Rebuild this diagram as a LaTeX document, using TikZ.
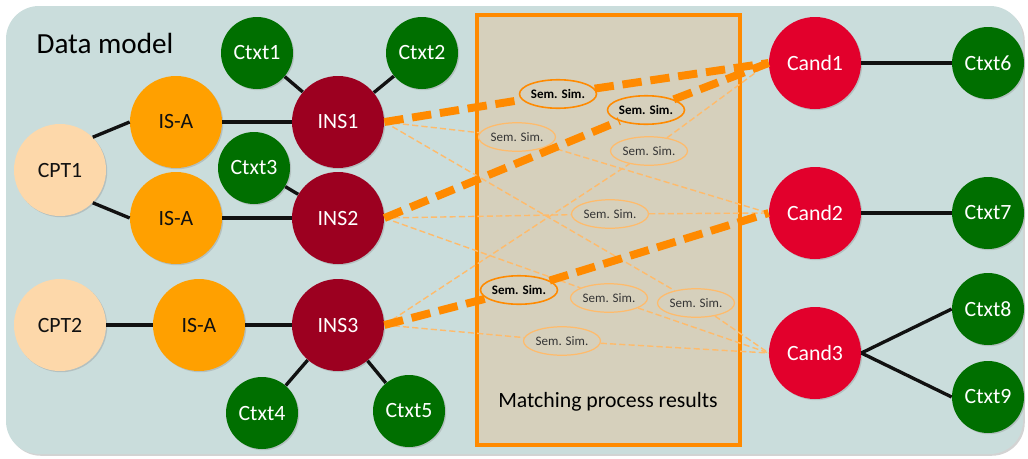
\documentclass[tikz,border=0pt]{standalone}
\usepackage{fontspec}
\setmainfont{Carlito}
\usepackage{tikz}
\usetikzlibrary{positioning,shapes.geometric,shadows,backgrounds}
\definecolor{ink}    {HTML}{111111}
\definecolor{sky}    {HTML}{CADDDC}
\definecolor{sand}   {HTML}{D6D0BC}
\definecolor{tang}   {HTML}{FF8A00}
\definecolor{peach}  {HTML}{FDD8AA}
\definecolor{amber}  {HTML}{FFA000}
\definecolor{wine}   {HTML}{9C0020}
\definecolor{leaf}   {HTML}{006F00}
\definecolor{cherry} {HTML}{E2002C}
\colorlet{paletang}{tang!58}
\tikzset{
  every node/.style={font=\fontsize{12.4}{14}\selectfont},
  % --- nodes
  ball/.style  = {circle, minimum size=18.4mm, inner sep=0pt,
                  drop shadow={shadow xshift=0.7pt, shadow yshift=-0.7pt, opacity=0.3}},
  cpt/.style   = {ball, fill=peach, text=ink},
  isa/.style   = {ball, fill=amber, text=ink},
  ins/.style   = {ball, fill=wine, text=white},
  cand/.style  = {ball, fill=cherry, text=white},
  ctxt/.style  = {ball, minimum size=14.4mm, fill=leaf, text=white},
  sim/.style   = {ellipse, fill=sand, draw=paletang, line width=0.7pt, inner sep=0pt,
                  minimum width=15.4mm, minimum height=5.7mm,
                  font=\fontsize{7.4}{8}\selectfont, text=ink!85},
  simb/.style  = {sim, draw=tang, line width=0.9pt, font=\fontsize{7.4}{8}\selectfont\bfseries, text=black},
  % --- edges
  e/.style     = {draw=ink, line width=1.9pt},
  em/.style    = {draw=tang, line width=4.5pt, dash pattern=on 11pt off 5pt},
  es/.style    = {draw=paletang, line width=0.8pt, dash pattern=on 3.5pt off 1.8pt},
}
\begin{document}
\begin{tikzpicture}[x=0.2mm, y=-0.2mm]
  \useasboundingbox (0,0) rectangle (1028,458);
  \fill[sky, rounded corners=6.6mm,
        drop shadow={shadow xshift=1pt, shadow yshift=-1pt, opacity=0.35}]
    (6,6) rectangle (1023,454);
  \draw[tang, fill=sand, line width=2pt] (477,15) rectangle (740,445);
  \node[font=\fontsize{16.6}{19}\selectfont] (title) at (105,43) {Data model};
  \node (res) at (608,402) {Matching process results};

  % left side
  \node[cpt] (cpt1) at (60,170) {CPT1};
  \node[cpt] (cpt2) at (60,325) {CPT2};
  \node[isa] (isa1) at (176,122) {IS-A};
  \node[isa] (isa2) at (176,218) {IS-A};
  \node[isa] (isa3) at (199,325) {IS-A};
  \node[ins] (ins1) at (338,122) {INS1};
  \node[ins] (ins2) at (338,218) {INS2};
  \node[ins] (ins3) at (338,325) {INS3};
  \node[ctxt] (ctxt1) at (257,53) {Ctxt1};
  \node[ctxt] (ctxt2) at (422,53) {Ctxt2};
  \node[ctxt] (ctxt3) at (254,168) {Ctxt3};
  \node[ctxt] (ctxt4) at (262,413) {Ctxt4};
  \node[ctxt] (ctxt5) at (409,411) {Ctxt5};

  % right side
  \node[cand] (cand1) at (815,63) {Cand1};
  \node[cand] (cand2) at (815,213) {Cand2};
  \node[cand] (cand3) at (815,353) {Cand3};
  \node[ctxt] (ctxt6) at (988,63) {Ctxt6};
  \node[ctxt] (ctxt7) at (988,213) {Ctxt7};
  \node[ctxt] (ctxt8) at (988,309) {Ctxt8};
  \node[ctxt] (ctxt9) at (988,397) {Ctxt9};

  % similarity labels
  \node[simb] (s11) at (558,94)  {Sem. Sim.};
  \node[simb] (s21) at (646,110) {Sem. Sim.};
  \node[simb] (s32) at (519,290) {Sem. Sim.};
  \node[sim]  (s12) at (517,137) {Sem. Sim.};
  \node[sim]  (s31) at (649,151) {Sem. Sim.};
  \node[sim]  (s22) at (610,214) {Sem. Sim.};
  \node[sim]  (s23) at (609,298) {Sem. Sim.};
  \node[sim]  (s13) at (696,303) {Sem. Sim.};
  \node[sim]  (s33) at (562,341) {Sem. Sim.};

  \draw[e] (cpt1.north east)--(isa1.west); \draw[e] (cpt1.south east)--(isa2.west);
  \draw[e] (cpt2)--(isa3);
  \draw[e] (isa1)--(ins1); \draw[e] (isa2)--(ins2); \draw[e] (isa3)--(ins3);
  \draw[e] (ctxt1)--(ins1); \draw[e] (ctxt2)--(ins1); \draw[e] (ctxt3)--(ins2);
  \draw[e] (ctxt4)--(ins3); \draw[e] (ctxt5)--(ins3);
  \draw[e] (cand1)--(ctxt6); \draw[e] (cand2)--(ctxt7);
  \draw[e] (cand3.east)--(ctxt8.west); \draw[e] (cand3.east)--(ctxt9.west);

  \draw[es] (ins1.east)--(s12)--(cand2.west);
  \draw[es] (ins1.east)--(s13)--(cand3.west);
  \draw[es] (ins2.east)--(s22)--(cand2.west);
  \draw[es] (ins2.east)--(s23)--(cand3.west);
  \draw[es] (ins3.east)--(s31)--(cand1.west);
  \draw[es] (ins3.east)--(s33)--(cand3.west);
  \draw[em] (ins1.east)--(s11)--(cand1.west);
  \draw[em] (ins2.east)--(s21)--(cand1.west);
  \draw[em] (ins3.east)--(s32)--(cand2.west);
\end{tikzpicture}
\end{document}
